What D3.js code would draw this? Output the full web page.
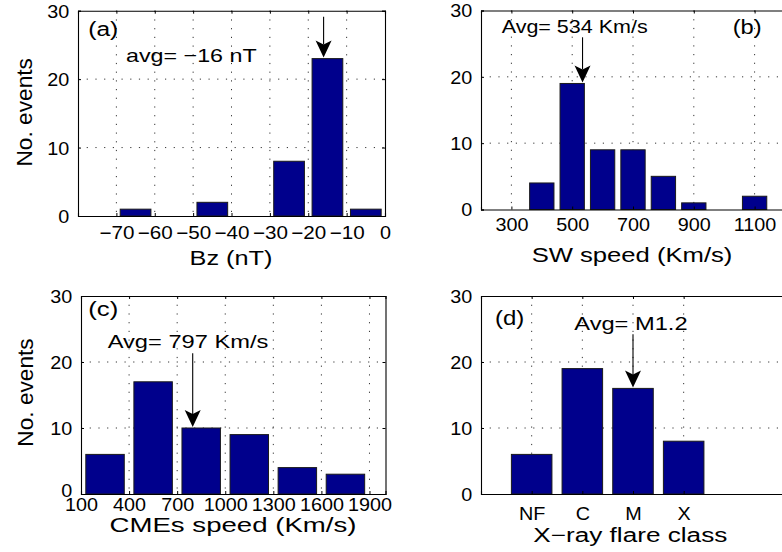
<!DOCTYPE html>
<html>
<head>
<meta charset="utf-8">
<script src="https://cdn.jsdelivr.net/npm/d3@7"></script>
<style>
  html, body { margin: 0; padding: 0; background: #fff; }
  svg { display: block; font-family: 'Liberation Sans', Arial, Helvetica, sans-serif; }
</style>
</head>
<body>
<svg id="chart" width="782" height="552"></svg>
<script>
// (a) IMF Bz histogram, 10 nT bins
const bzBinCenters = [-75, -65, -55, -45, -35, -25, -15, -5];
const bzCounts     = [0, 1, 0, 2, 0, 8, 23, 1];
const bzTicks      = [-70, -60, -50, -40, -30, -20, -10, 0];
const bzAvg        = -16;

// (b) solar wind speed histogram, 100 km/s bins
const swBinCenters = [300, 400, 500, 600, 700, 800, 900, 1000, 1100];
const swCounts     = [0, 4, 19, 9, 9, 5, 1, 0, 2];
const swTicks      = [300, 500, 700, 900, 1100];
const swAvg        = 534;

// (c) CME speed histogram, 300 km/s bins
const cmeBinCenters = [250, 550, 850, 1150, 1450, 1750];
const cmeCounts     = [6, 17, 10, 9, 4, 3];
const cmeTicks      = [100, 400, 700, 1000, 1300, 1600, 1900];
const cmeAvg        = 797;

// (d) X-ray flare class counts
const flareClasses = ["NF", "C", "M", "X"];
const flareCounts  = [6, 19, 16, 8];
const flareAvgClass = "M";

const countTicks = [0, 10, 20, 30];

const svg = d3.select("#chart");
const BAR_FILL = "#00008c";
const TICK_FONT = 18;
const TICK_STRETCH = "scale(1.1,1)";

function drawPanel(p) {
  const x = d3.scaleLinear().domain(p.xDomain).range([p.left, p.right]);
  const y = d3.scaleLinear().domain([0, 30]).range([p.bottom, p.top]);
  const g = svg.append("g");

  // dotted grid
  g.append("g").selectAll("line").data(p.gridX).join("line")
    .attr("x1", d => x(d)).attr("x2", d => x(d))
    .attr("y1", p.top).attr("y2", p.bottom)
    .attr("stroke", "#000").attr("stroke-width", 0.8)
    .attr("stroke-dasharray", "1.2,7.5");
  g.append("g").selectAll("line").data([10, 20]).join("line")
    .attr("x1", p.left).attr("x2", p.right)
    .attr("y1", d => y(d)).attr("y2", d => y(d))
    .attr("stroke", "#000").attr("stroke-width", 0.8)
    .attr("stroke-dasharray", "1.2,7.5");

  // bars
  const bw = Math.abs(x(p.binWidth * 0.8) - x(0));
  g.append("g").selectAll("rect").data(p.centers.map((c, i) => [c, p.counts[i]])).join("rect")
    .attr("x", d => x(d[0]) - bw / 2)
    .attr("width", bw)
    .attr("y", d => y(d[1]))
    .attr("height", d => y(0) - y(d[1]))
    .attr("fill", BAR_FILL)
    .attr("stroke", "#1a1a1a").attr("stroke-width", 1);

  // axes with inward ticks
  const tickFmt = p.tickFormat || (d => d3.format("d")(d).replace("-", "\u2212"));
  const xb = g.append("g").attr("transform", `translate(0,${p.bottom})`)
    .call(d3.axisBottom(x).tickValues(p.ticks).tickSize(-3).tickFormat(tickFmt));
  const xt = g.append("g").attr("transform", `translate(0,${p.top})`)
    .call(d3.axisTop(x).tickValues(p.ticks).tickSize(-3).tickFormat(""));
  const yl = g.append("g").attr("transform", `translate(${p.left},0)`)
    .call(d3.axisLeft(y).tickValues(countTicks).tickSize(-3));
  const yr = g.append("g").attr("transform", `translate(${p.right},0)`)
    .call(d3.axisRight(y).tickValues(countTicks).tickSize(-3).tickFormat(""));
  [xb, xt, yl, yr].forEach(a => {
    a.select(".domain").attr("stroke", "#000").attr("stroke-width", 1.1);
    a.selectAll(".tick line").attr("stroke", "#000");
  });
  xb.selectAll("text")
    .attr("y", p.tickLabelY).attr("dy", null)
    .attr("font-size", TICK_FONT).attr("fill", "#000")
    .attr("transform", TICK_STRETCH);
  // negative labels carry a wide minus sign
  xb.selectAll(".tick").filter(d => d < 0).select("text")
    .attr("transform", null)
    .attr("textLength", 35).attr("lengthAdjust", "spacingAndGlyphs");
  yl.selectAll("text")
    .attr("x", -8).attr("dy", "0.36em")
    .attr("font-size", TICK_FONT).attr("fill", "#000")
    .attr("transform", TICK_STRETCH);
  if (p.zeroLabelLift) {
    yl.selectAll(".tick").filter(d => d === 0).select("text")
      .attr("dy", null).attr("y", 6 - p.zeroLabelLift);
  }

  // average arrow
  const ax = x(p.avg);
  const tip = y(p.avgBar) - 1;
  const hl = 17, hw = 8, notch = 4;
  g.append("line")
    .attr("x1", ax).attr("x2", ax)
    .attr("y1", p.arrowTop).attr("y2", tip - hl + notch)
    .attr("stroke", "#000").attr("stroke-width", 1.1);
  g.append("path")
    .attr("d", `M${ax},${tip} L${ax - hw},${tip - hl} L${ax},${tip - hl + notch} L${ax + hw},${tip - hl} Z`)
    .attr("fill", "#000");

  return { x, y };
}

function label(txt, x, y, size, width, anchor, rotate) {
  const t = svg.append("text")
    .attr("font-size", size)
    .attr("text-anchor", anchor || "start")
    .attr("fill", "#000")
    .attr("textLength", width)
    .attr("lengthAdjust", "spacingAndGlyphs")
    .text(txt);
  if (rotate) t.attr("transform", `translate(${x},${y}) rotate(-90)`);
  else t.attr("x", x).attr("y", y);
  return t;
}

// Panel (a)
drawPanel({
  left: 78, right: 385, top: 10.7, bottom: 216,
  xDomain: [-80, 0], ticks: bzTicks, gridX: bzTicks.slice(0, -1),
  centers: bzBinCenters, counts: bzCounts, binWidth: 10,
  tickLabelY: 23, avg: bzAvg, avgBar: bzCounts[bzBinCenters.indexOf(-15)], arrowTop: 16.7
});
// Panel (b)
drawPanel({
  left: 481, right: 785, top: 10.5, bottom: 209.5,
  xDomain: [200, 1200], ticks: swTicks, gridX: swTicks,
  centers: swBinCenters, counts: swCounts, binWidth: 100,
  tickLabelY: 22, avg: swAvg, avgBar: swCounts[swBinCenters.indexOf(500)], arrowTop: 37.3
});
// Panel (c)
drawPanel({
  left: 81, right: 385.5, top: 296, bottom: 494,
  xDomain: [100, 2000], ticks: cmeTicks, gridX: cmeTicks.slice(1),
  centers: cmeBinCenters, counts: cmeCounts, binWidth: 300,
  tickLabelY: 17, avg: cmeAvg, avgBar: cmeCounts[cmeBinCenters.indexOf(850)], arrowTop: 353.3,
  zeroLabelLift: 4
});
// Panel (d): categories placed at 1..4
const flarePos = flareClasses.map((c, i) => i + 1);
drawPanel({
  left: 481, right: 785, top: 296, bottom: 494,
  xDomain: [0, 6], ticks: flarePos, gridX: flarePos,
  tickFormat: d => flareClasses[d - 1],
  centers: flarePos, counts: flareCounts, binWidth: 1,
  tickLabelY: 26, avg: flareClasses.indexOf(flareAvgClass) + 1,
  avgBar: flareCounts[flareClasses.indexOf(flareAvgClass)], arrowTop: 334.3
});

// axis titles
label("No. events", 32, 112.3, 22, 108.5, "middle", true);
label("No. events", 33, 392.5, 22, 108.3, "middle", true);
label("Bz (nT)", 231, 265, 20, 83, "middle");
label("SW speed (Km/s)", 632, 262, 20, 200.7, "middle");
label("CMEs speed (Km/s)", 233, 532, 20, 247, "middle");
label("X\u2212ray flare class", 630.3, 542, 20, 194, "middle");

// panel tags and averages
label("(a)", 88.3, 36, 20, 30);
label("avg= \u221216 nT", 126, 62, 19, 130.7);
label("Avg= 534 Km/s", 501.7, 33, 18, 146);
label("(b)", 732.7, 34, 20, 29);
label("(c)", 88.3, 316, 20, 30);
label("Avg= 797 Km/s", 107.7, 348, 19, 160.7);
label("(d)", 495, 325, 20, 29.3);
label("Avg= M1.2", 574.3, 330, 19, 113.3);
</script>
</body>
</html>
